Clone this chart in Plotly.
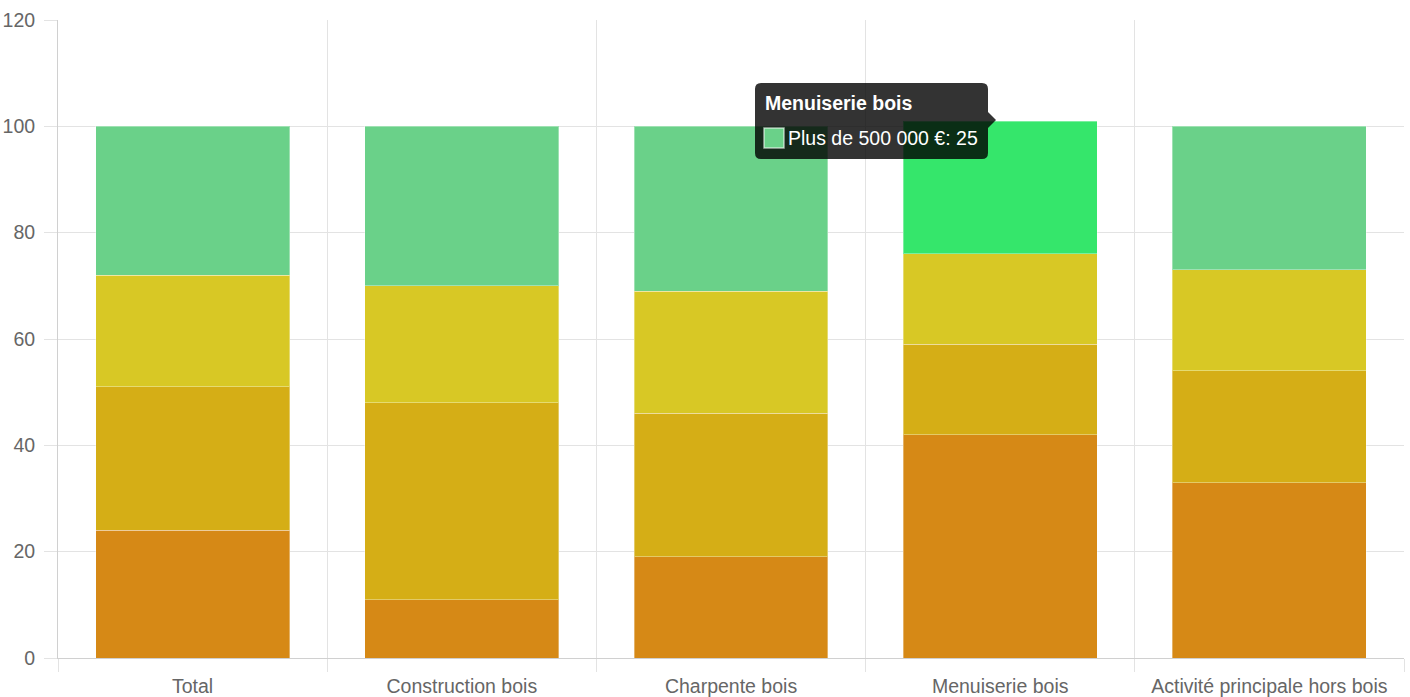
import plotly.graph_objects as go

categories = ["Total", "Construction bois", "Charpente bois", "Menuiserie bois", "Activité principale hors bois"]
series_names = ["Moins de 100 000 €", "De 100 000 à 250 000 €", "De 250 000 à 500 000 €", "Plus de 500 000 €"]
s1 = [24, 11, 19, 42, 33]
s2 = [27, 37, 27, 17, 21]
s3 = [21, 22, 23, 17, 19]
s4 = [28, 30, 31, 25, 27]
colors = ["#D68916", "#D5AE16", "#D8C825", "#6AD189"]
hover_color = "#35E66B"
hovered_index = 3
y_ticks = [0, 20, 40, 60, 80, 100, 120]

W, H = 1410, 697
L, R, T, B = 58, 6, 20, 39
FONT = "Liberation Sans, Arial, sans-serif"
FS = 19.5

fig = go.Figure()
for name, vals, col in zip(series_names, [s1, s2, s3, s4], colors):
    mcols = [col] * len(categories)
    if name == series_names[-1]:
        mcols[hovered_index] = hover_color
    fig.add_trace(go.Bar(
        x=categories, y=vals, name=name,
        marker=dict(color=mcols, line=dict(color="rgba(255,255,255,0.35)", width=1)),
        showlegend=False, hoverinfo="skip",
    ))

grid = "#E3E3E3"
fig.update_layout(
    width=W, height=H, barmode="stack", bargap=0.28,
    margin=dict(l=L, r=R, t=T, b=B, autoexpand=False),
    paper_bgcolor="white", plot_bgcolor="white",
    font=dict(family=FONT, size=FS, color="#666666"),
    xaxis=dict(
        tickson="boundaries", showgrid=True, gridcolor=grid, gridwidth=1,
        ticks="outside", ticklen=13, tickcolor=grid, tickwidth=1,
        showline=True, linecolor="#D0D0D0", linewidth=1, mirror=False,
        automargin=False, tickfont=dict(size=FS, color="#666666"),
        range=[-0.5, 4.5], fixedrange=True, ticklabelstandoff=11,
    ),
    yaxis=dict(
        range=[0, 120], tickvals=y_ticks, showgrid=True, gridcolor=grid, gridwidth=1,
        ticks="outside", ticklen=13, tickcolor=grid, tickwidth=1,
        showline=True, linecolor="#D0D0D0", linewidth=1, zeroline=False,
        automargin=False, tickfont=dict(size=FS, color="#666666"),
        ticklabelstandoff=5,
    ),
)

pw, ph = W - L - R, H - T - B
def px(x):
    return (x - L) / pw
def py(y):
    return (H - B - y) / ph

# tooltip (hover state captured in the reference)
x0, x1, y0, y1, r = 755, 988, 83, 159, 6
cx, cy = 996, 120
pts = [
    f"M {px(x0+r)},{py(y0)}",
    f"L {px(x1-r)},{py(y0)}",
    f"Q {px(x1)},{py(y0)} {px(x1)},{py(y0+r)}",
    f"L {px(x1)},{py(cy-8)}",
    f"L {px(cx)},{py(cy)}",
    f"L {px(x1)},{py(cy+8)}",
    f"L {px(x1)},{py(y1-r)}",
    f"Q {px(x1)},{py(y1)} {px(x1-r)},{py(y1)}",
    f"L {px(x0+r)},{py(y1)}",
    f"Q {px(x0)},{py(y1)} {px(x0)},{py(y1-r)}",
    f"L {px(x0)},{py(y0+r)}",
    f"Q {px(x0)},{py(y0)} {px(x0+r)},{py(y0)}",
    "Z",
]
fig.add_shape(type="path", xref="paper", yref="paper", path=" ".join(pts),
              fillcolor="rgba(0,0,0,0.8)", line=dict(width=0), layer="above")
fig.add_shape(type="rect", xref="paper", yref="paper",
              x0=px(764), x1=px(784), y0=py(148), y1=py(128),
              fillcolor=colors[3], line=dict(color="rgba(255,255,255,0.6)", width=1.5), layer="above")
fig.add_annotation(xref="paper", yref="paper", x=px(763), y=py(103), xanchor="left", yanchor="middle",
                   text="<b>" + categories[hovered_index] + "</b>", showarrow=False,
                   font=dict(size=FS, color="white", family=FONT))
fig.add_annotation(xref="paper", yref="paper", x=px(786), y=py(138), xanchor="left", yanchor="middle",
                   text=f"{series_names[3]}: {s4[hovered_index]}", showarrow=False,
                   font=dict(size=FS, color="white", family=FONT))

fig.write_html("out.html", config={"displayModeBar": False},
               post_script="document.body.style.margin='0';document.body.style.overflow='hidden';")
